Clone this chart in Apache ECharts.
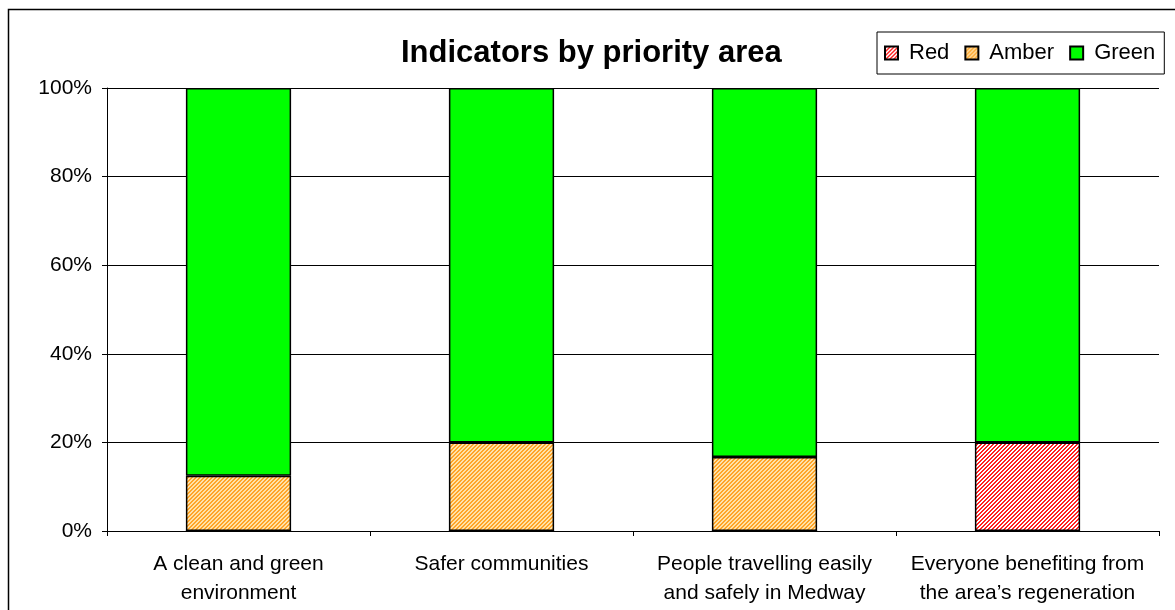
<!DOCTYPE html>
<html>
<head>
<meta charset="utf-8">
<script src="https://cdn.jsdelivr.net/npm/echarts@6/dist/echarts.min.js"></script>
<style>
html,body{margin:0;padding:0;background:#fff;}
#chart{width:1175px;height:610px;}
</style>
</head>
<body>
<div id="chart"></div>
<script>
var categories = ['A clean and green\nenvironment', 'Safer communities', 'People travelling easily\nand safely in Medway', 'Everyone benefiting from\nthe area\u2019s regeneration'];
var redValues = [0, 0, 0, 20];
var amberValues = [12.5, 20, 16.7, 0];
var greenValues = [87.5, 80, 83.3, 80];
var seriesNames = ['Red', 'Amber', 'Green'];
var titleText = 'Indicators by priority area';

function makePattern(bg, fg) {
  var c = document.createElement('canvas');
  c.width = 4; c.height = 4;
  var ctx = c.getContext('2d');
  ctx.fillStyle = bg; ctx.fillRect(0, 0, 4, 4);
  ctx.fillStyle = fg;
  for (var y = 0; y < 4; y++) {
    for (var x = 0; x < 4; x++) {
      if ((x + y) % 4 === 0 || (x + y) % 4 === 1) ctx.fillRect(x, y, 1, 1);
    }
  }
  return { image: c, repeat: 'repeat' };
}
var redPattern = makePattern('#ffffff', '#ff2020');
var amberPattern = makePattern('#ffe2a8', '#ffa428');

var font = 'Liberation Sans, Arial, sans-serif';
var chart = echarts.init(document.getElementById('chart'));
function mk(name, data, color) {
  return {
    name: name, type: 'bar', stack: 'total', data: data, barWidth: '40%',
    itemStyle: { color: color, borderColor: '#000', borderWidth: 1.5 },
    emphasis: { disabled: true }
  };
}
chart.setOption({
  animation: false,
  backgroundColor: '#fff',
  textStyle: { fontFamily: font },
  title: {
    text: titleText, left: 401, top: 38, padding: 0,
    textStyle: { fontFamily: font, fontSize: 31, fontWeight: 'bold', color: '#000' }
  },
  legend: {
    data: seriesNames, left: 877, top: 32, orient: 'horizontal',
    borderColor: '#000', borderWidth: 1, padding: [10, 9, 10, 7],
    itemWidth: 13, itemHeight: 13, itemGap: 15,
    textStyle: { fontFamily: font, fontSize: 22, color: '#000', padding: [0, 0, 0, 6] },
    icon: 'rect'
  },
  grid: { left: 107, right: 16, top: 88, bottom: 79, containLabel: false },
  xAxis: {
    type: 'category', data: categories, boundaryGap: true,
    axisLine: { lineStyle: { color: '#000', width: 1 } },
    axisTick: { show: true, alignWithLabel: false, length: 5, lineStyle: { color: '#000' } },
    axisLabel: { color: '#000', fontSize: 21, fontFamily: font, margin: 19, lineHeight: 29, interval: 0 }
  },
  yAxis: {
    type: 'value', min: 0, max: 100, interval: 20,
    axisLine: { show: true, lineStyle: { color: '#000', width: 1 } },
    axisTick: { show: true, length: 5, lineStyle: { color: '#000' } },
    axisLabel: { formatter: '{value}%', color: '#000', fontSize: 21, fontFamily: font, margin: 15 },
    splitLine: { show: true, lineStyle: { color: '#000', width: 1 } }
  },
  series: [
    mk(seriesNames[0], redValues, redPattern),
    mk(seriesNames[1], amberValues, amberPattern),
    mk(seriesNames[2], greenValues, '#00ff00')
  ],
  graphic: [{
    type: 'rect', silent: true,
    shape: { x: 8.5, y: 9.5, width: 1200, height: 700 },
    style: { fill: 'none', stroke: '#000', lineWidth: 1.5 }
  }]
});
</script>
</body>
</html>
